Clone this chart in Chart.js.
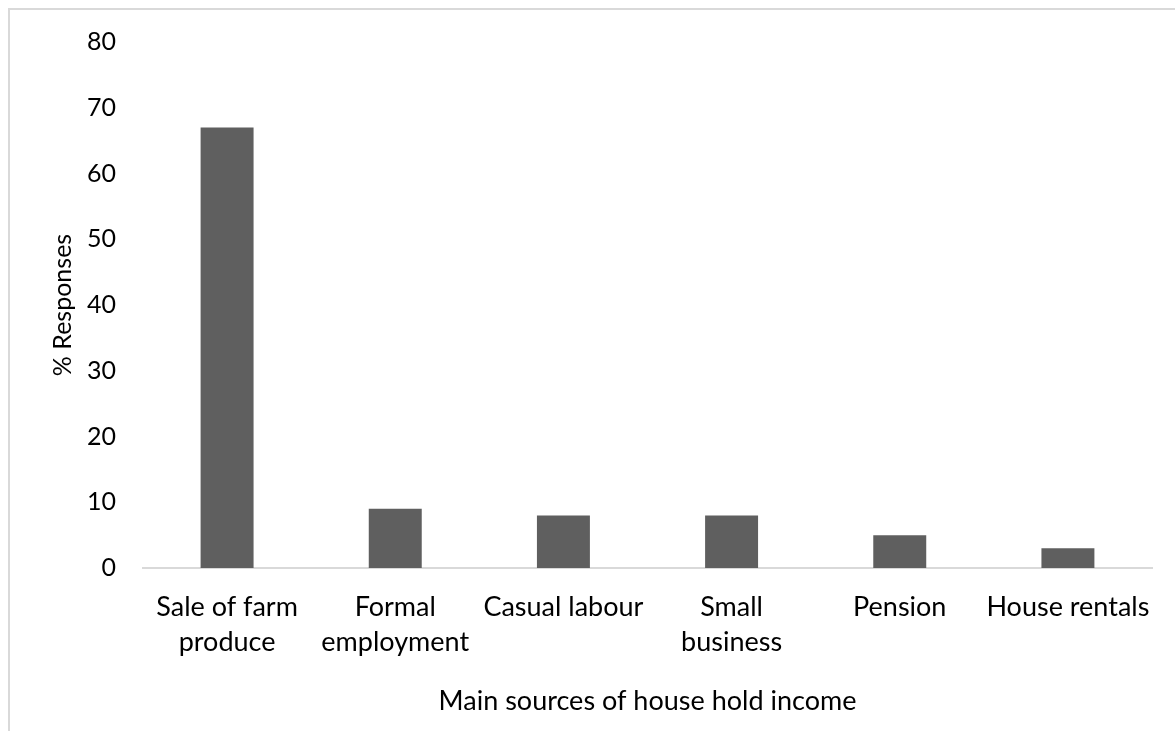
<!DOCTYPE html>
<html>
<head>
<meta charset="utf-8">
<script src="https://cdn.jsdelivr.net/npm/chart.js@4/dist/chart.umd.min.js"></script>
<style>
    html, body { margin: 0; padding: 0; background: #ffffff; overflow: hidden; }
    #frame {
        position: absolute;
        left: 8px;
        top: 8px;
        width: 1300px;
        height: 900px;
        border: 2px solid #d9d9d9;
    }
    #wrap { position: absolute; left: 0; top: 0; width: 1175px; height: 731px; }
</style>
</head>
<body>
<div id="frame"></div>
<div id="wrap"><canvas id="incomeChart"></canvas></div>
<script>
// Main sources of household income, % of responses
const sources = [
    ['Sale of farm', 'produce'],
    ['Formal', 'employment'],
    'Casual labour',
    ['Small', 'business'],
    'Pension',
    'House rentals'
];
const responses = [67, 9, 8, 8, 5, 3];
const yTicks = [0, 10, 20, 30, 40, 50, 60, 70, 80];

const FONT = 'Lato, "Liberation Sans", sans-serif';
const TEXT = '#000000';

const ctx = document.getElementById('incomeChart').getContext('2d');

new Chart(ctx, {
    type: 'bar',
    data: {
        labels: sources,
        datasets: [{
            label: '% Responses',
            data: responses,
            backgroundColor: '#5f5f5f',
            borderWidth: 0,
            categoryPercentage: 1,
            barPercentage: 0.315
        }]
    },
    options: {
        responsive: true,
        maintainAspectRatio: false,
        animation: false,
        layout: {
            padding: { top: 40, right: 23, bottom: 0, left: 0 }
        },
        plugins: {
            legend: { display: false },
            tooltip: { enabled: false }
        },
        scales: {
            x: {
                grid: { display: false, drawTicks: false },
                border: { display: true, color: '#d9d9d9', width: 2 },
                ticks: {
                    color: TEXT,
                    padding: 22,
                    maxRotation: 0,
                    autoSkip: false,
                    font: { family: FONT, size: 27, lineHeight: 1.3 }
                },
                title: {
                    display: true,
                    text: 'Main sources of house hold income',
                    color: TEXT,
                    font: { family: FONT, size: 27 },
                    padding: { top: 0, bottom: 14 }
                },
                afterFit: (scale) => { scale.height = 163; }
            },
            y: {
                min: 0,
                max: 80,
                afterBuildTicks: (scale) => {
                    scale.ticks = yTicks.map(v => ({ value: v }));
                },
                grid: { display: false, drawTicks: false },
                border: { display: false },
                ticks: {
                    color: TEXT,
                    padding: 27,
                    font: { family: FONT, size: 25 }
                },
                title: {
                    display: true,
                    text: '% Responses',
                    color: TEXT,
                    font: { family: FONT, size: 25 },
                    padding: { top: 48, bottom: 0 }
                },
                afterFit: (scale) => { scale.width = 143; }
            }
        }
    }
});
</script>
</body>
</html>
